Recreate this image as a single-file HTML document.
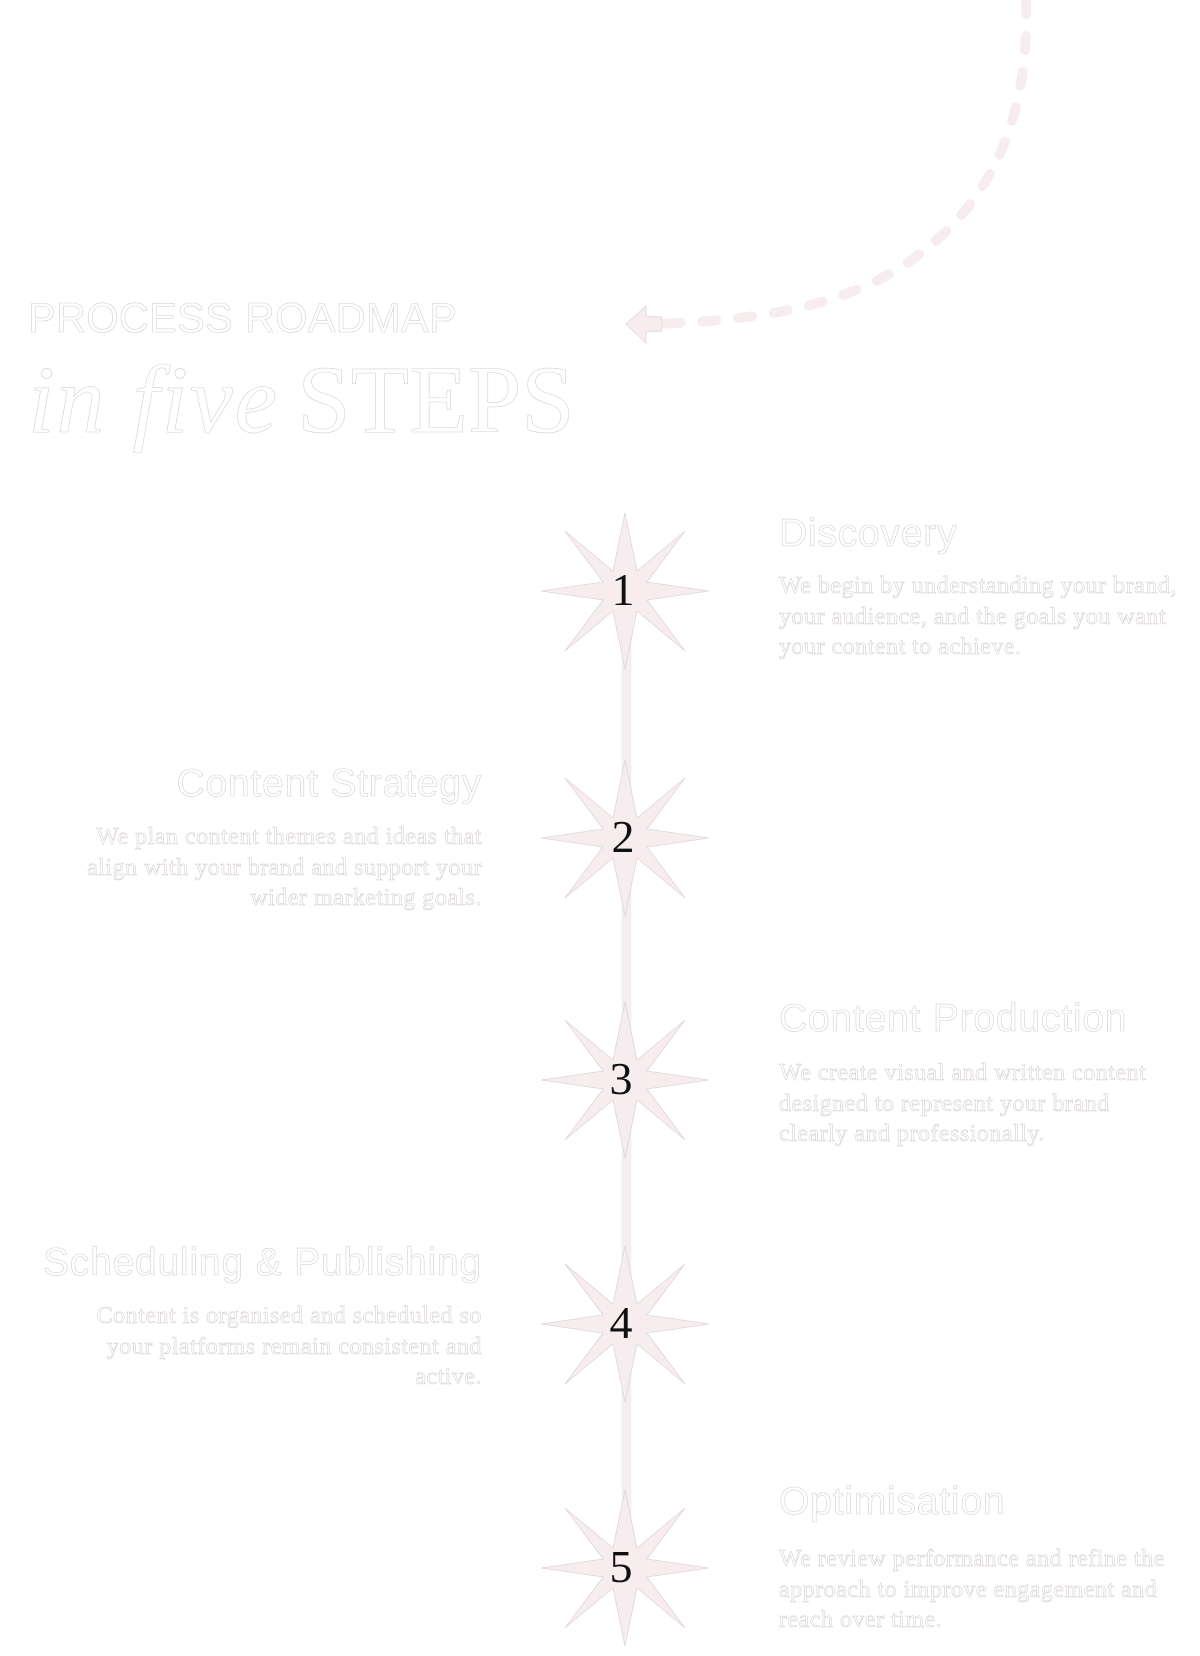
<!DOCTYPE html>
<html><head><meta charset="utf-8"><style>
html,body{margin:0;padding:0;background:#fff;}
body{width:1200px;height:1656px;position:relative;overflow:hidden;}
svg{position:absolute;left:0;top:0;}
.t{position:absolute;color:#fff;-webkit-text-stroke:0.6px #d6d0d0;white-space:nowrap;}
.h{font-family:"Liberation Sans",sans-serif;font-size:39px;line-height:40px;letter-spacing:0.8px;}
.b{font-family:"Liberation Serif",serif;font-size:24px;line-height:30.5px;letter-spacing:0.5px;}
.r{text-align:right;}
.n{position:absolute;font-family:"Liberation Serif",serif;font-size:46px;color:#111;width:80px;text-align:center;line-height:50px;}
</style></head><body>
<svg width="1200" height="1656" viewBox="0 0 1200 1656">
<path d="M1026,0 C1030,120 990,200 921,253 C860,300 780,320 655,324" fill="none" stroke="#f7ecee" stroke-width="10" stroke-linecap="round" stroke-dasharray="14 22"/>
<path d="M626,324 L646,306 L646,316 L662,317 L662,331 L646,332 L646,343 Z" fill="#f7ecee" stroke="#e6dcdc" stroke-width="1" stroke-linejoin="round"/>
<rect x="622" y="600" width="9" height="980" fill="#f7ecee" stroke="#eee" stroke-width="0.5"/>
<defs><path id="st" d="M0,-78 L12,-20 L60,-60 L22,-9 L84,0 L22,9 L60,60 L12,20 L0,78 L-12,20 L-60,60 L-22,9 L-84,0 L-22,-9 L-60,-60 L-12,-20 Z" fill="#f8edee" stroke="#ded6d6" stroke-width="0.8"/></defs>
<use href="#st" x="625" y="591"/>
<use href="#st" x="625" y="838"/>
<use href="#st" x="625" y="1080"/>
<use href="#st" x="625" y="1324"/>
<use href="#st" x="625" y="1568"/>
</svg>
<div class="n" style="left:583px;top:565px">1</div>
<div class="n" style="left:583px;top:812px">2</div>
<div class="n" style="left:581px;top:1054px">3</div>
<div class="n" style="left:581px;top:1298px">4</div>
<div class="n" style="left:581px;top:1542px">5</div>

<div class="t" style="left:28px;top:294px;font-family:'Liberation Sans',sans-serif;font-size:41.5px;letter-spacing:0.3px">PROCESS ROADMAP</div>
<div class="t" style="left:28px;top:350px;font-family:'Liberation Serif',serif;font-size:96px;line-height:100px"><i style="letter-spacing:2px">in five</i><span style="margin-left:18px">STEPS</span></div>

<div class="t h" style="left:779px;top:514px">Discovery</div>
<div class="t b" style="left:779px;top:571px">We begin by understanding your brand,<br>your audience, and the goals you want<br>your content to achieve.</div>

<div class="t h r" style="right:718px;top:764px">Content Strategy</div>
<div class="t b r" style="right:718px;top:822px">We plan content themes and ideas that<br>align with your brand and support your<br>wider marketing goals.</div>

<div class="t h" style="left:779px;top:999px">Content Production</div>
<div class="t b" style="left:779px;top:1058px">We create visual and written content<br>designed to represent your brand<br>clearly and professionally.</div>

<div class="t h r" style="right:718px;top:1243px">Scheduling &amp; Publishing</div>
<div class="t b r" style="right:718px;top:1301px">Content is organised and scheduled so<br>your platforms remain consistent and<br>active.</div>

<div class="t h" style="left:779px;top:1482px">Optimisation</div>
<div class="t b" style="left:779px;top:1544px">We review performance and refine the<br>approach to improve engagement and<br>reach over time.</div>
</body></html>
